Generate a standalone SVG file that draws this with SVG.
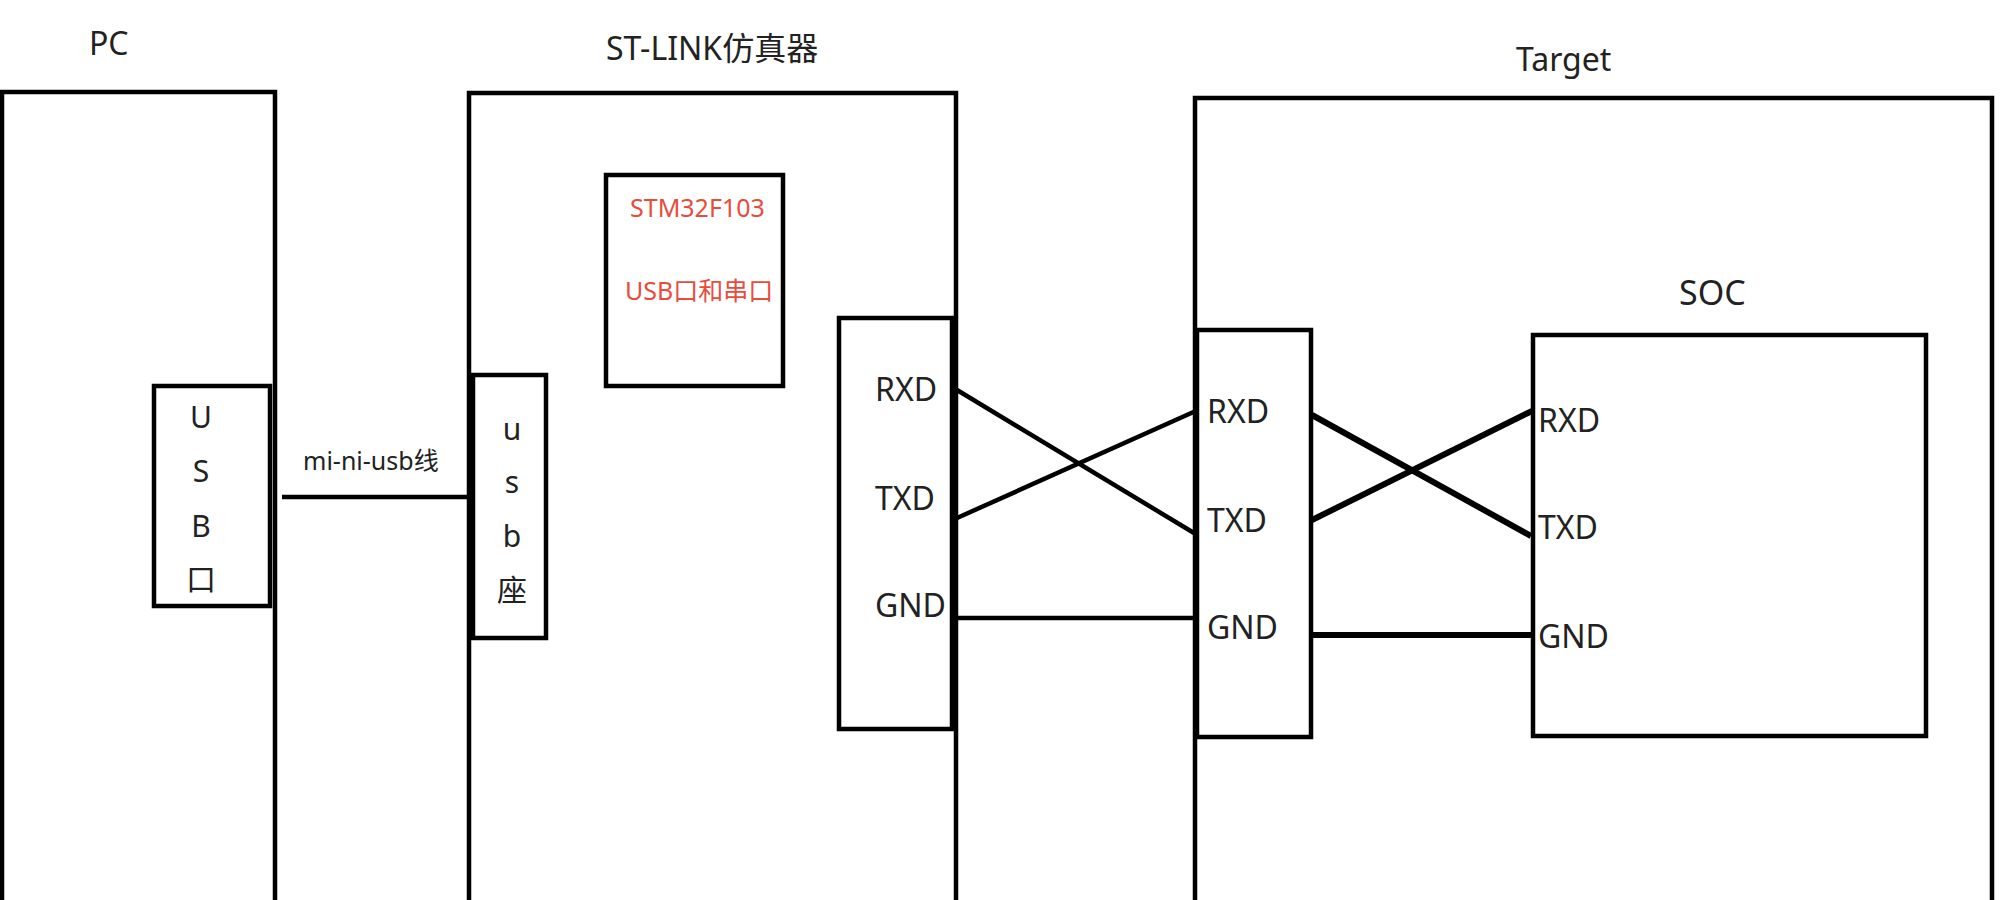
<svg xmlns="http://www.w3.org/2000/svg" width="2000" height="900" viewBox="0 0 2000 900">
<style>
.box{fill:none;stroke:#000;stroke-width:4.5}
.t{font-family:"Noto Sans","Noto Sans CJK SC",sans-serif;fill:#222}
.title{font-size:32px}
.pin{font-size:32px}
.v{font-size:30px;text-anchor:middle}
.red{font-family:"Noto Sans","Noto Sans CJK SC",sans-serif;fill:#e84c3d;font-size:25px}
.w{stroke:#000;fill:none;stroke-width:4.5}
.w2{stroke:#000;fill:none;stroke-width:6}
</style>
<rect width="2000" height="900" fill="#fff"/>
<g id="pc">
<text class="t title" x="89" y="55">PC</text>
<path class="box" d="M2,910 V92 H275 V910"/>
</g>
<g id="pc-usb">
<rect class="box" x="154" y="386" width="116" height="220"/>
<text class="t v" x="201" y="428">U</text>
<text class="t v" x="201" y="482">S</text>
<text class="t v" x="201" y="537">B</text>
<text class="t v" x="201" y="590">口</text>
</g>
<g id="stlink">
<text class="t title" x="606" y="60">ST-LINK仿真器</text>
<path class="box" d="M469,910 V93 H956 V910"/>
</g>
<g id="stm32">
<rect class="box" x="606" y="175" width="177" height="211" stroke-width="6"/>
<text class="red" x="630" y="217">STM32F103</text>
<text class="red" x="625" y="300">USB口和串口</text>
</g>
<g id="usb-socket">
<rect class="box" x="473" y="375" width="73" height="263"/>
<text class="t v" x="512" y="440">u</text>
<text class="t v" x="512" y="493">s</text>
<text class="t v" x="512" y="547">b</text>
<text class="t v" x="512" y="601">座</text>
</g>
<g id="stlink-pins">
<rect class="box" x="839" y="318" width="113" height="411"/>
<text class="t pin" x="875" y="401">RXD</text>
<text class="t pin" x="875" y="510">TXD</text>
<text class="t pin" x="875" y="617">GND</text>
</g>
<g id="target">
<text class="t title" x="1516" y="71">Target</text>
<path class="box" d="M1195,910 V98 H1992 V910"/>
</g>
<g id="target-pins">
<rect class="box" x="1197" y="330" width="114" height="407"/>
<text class="t pin" x="1207" y="423">RXD</text>
<text class="t pin" x="1207" y="532">TXD</text>
<text class="t pin" x="1207" y="639">GND</text>
</g>
<g id="soc">
<text class="t" x="1679" y="305" font-size="34">SOC</text>
<rect class="box" x="1533" y="335" width="393" height="401"/>
<text class="t pin" x="1538" y="432">RXD</text>
<text class="t pin" x="1538" y="539">TXD</text>
<text class="t pin" x="1538" y="648">GND</text>
</g>
<g id="connectors">
<line class="w" x1="282" y1="497" x2="469" y2="497"/>
<text class="t" x="303" y="470" font-size="25">mi-ni-usb线</text>
<line class="w" x1="957" y1="390" x2="1194" y2="533"/>
<line class="w" x1="957" y1="518" x2="1198" y2="410"/>
<line class="w" x1="957" y1="618" x2="1195" y2="618"/>
<line class="w2" x1="1312" y1="415" x2="1531" y2="536"/>
<line class="w2" x1="1312" y1="520" x2="1532" y2="411"/>
<line class="w2" x1="1311" y1="635" x2="1533" y2="635"/>
</g>
</svg>
